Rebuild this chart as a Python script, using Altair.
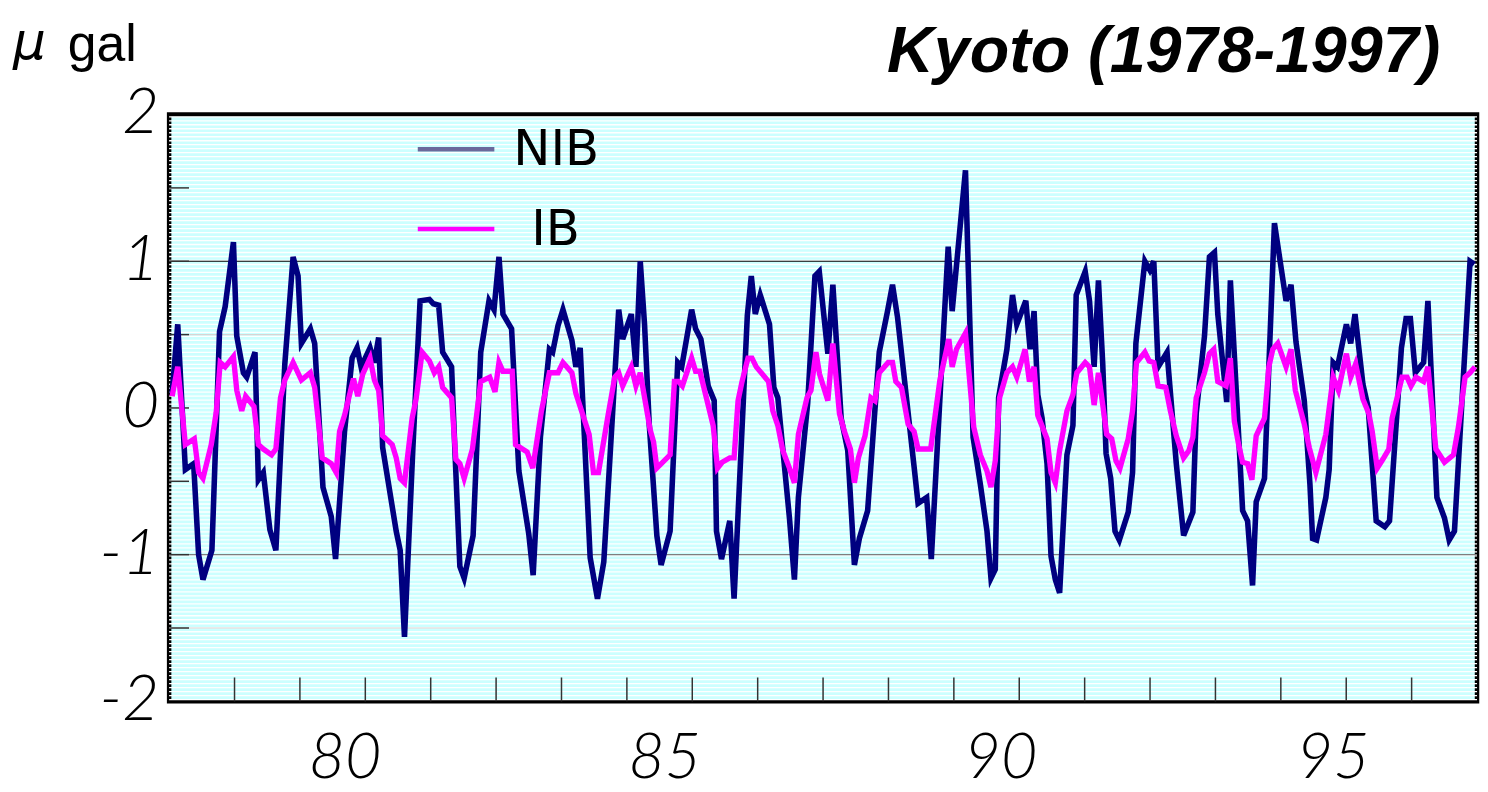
import altair as alt
import pandas as pd
import numpy as np

# ---------------- data ----------------
# month index counted from Jan 1978 (0 = 1978.0), value in micro-gal
nib_month = [0.55, 1.58, 2.98, 4.50, 5.41, 6.21, 7.85, 9.25, 10.28, 11.80, 12.41, 13.63, 14.24, 15.76,
             16.37, 17.28, 18.49, 19.59, 21.23, 22.75, 23.66, 24.27, 25.92, 26.71, 28.23, 29.75, 30.54,
             32.19, 33.58, 34.49, 35.22, 36.87, 37.66, 38.45, 39.18, 41.67, 42.40, 43.19, 44.71, 46.05,
             47.76, 48.49, 49.46, 50.19, 51.83, 52.50, 53.35, 54.14, 55.78, 57.18, 58.70, 59.62, 60.53,
             61.26, 62.84, 64.18, 66.00, 66.80, 68.13, 69.78, 70.38, 71.36, 72.27, 73.91, 74.64, 75.43,
             77.26, 78.60, 79.76, 82.50, 83.23, 84.81, 85.66, 86.45, 87.24, 88.10, 89.50, 90.28, 91.93,
             93.33, 94.06, 95.88, 96.61, 97.58, 98.92, 100.02, 100.44, 101.36, 102.88, 103.67, 106.10,
             106.83, 107.56, 108.47, 110.17, 110.97, 111.70, 113.83, 114.74, 115.47, 117.17, 118.51,
             119.30, 120.88, 121.80, 123.32, 124.53, 125.75, 126.66, 128.18, 129.40, 130.31, 131.83,
             132.74, 133.66, 136.70, 137.43, 139.01, 139.86, 142.17, 142.96, 143.69, 146.13, 147.53,
             148.86, 150.08, 150.81, 151.60, 152.21, 153.73, 154.76, 155.55, 157.20, 157.99, 158.72,
             159.40, 160.19, 161.10, 161.83, 162.62, 163.41, 164.75, 165.85, 166.45, 168.10, 168.89,
             169.74, 170.53, 171.32, 171.93, 172.78, 173.57, 174.36, 176.00, 176.79, 177.40, 179.05,
             179.96, 180.69, 181.48, 183.12, 184.82, 186.16, 187.86, 188.47, 189.99, 190.90, 191.82,
             192.43, 194.07, 194.74, 196.99, 197.90, 198.81, 199.48, 201.00, 202.83, 204.96, 205.87,
             206.78, 208.30, 209.34, 209.83, 210.56, 212.26, 212.87, 213.60, 214.39, 216.03, 216.82,
             217.61, 219.07, 220.04, 221.50, 223.08, 223.94, 226.13, 226.98, 227.77, 228.68, 230.20,
             230.99, 232.64, 234.03, 234.89, 235.86, 238.72, 239.50]
nib_value = [0.10, 0.57, -0.42, -0.38, -1.00, -1.17, -0.97, 0.52, 0.69, 1.13, 0.49, 0.24, 0.21, 0.38,
             -0.49, -0.44, -0.83, -0.97, 0.30, 1.03, 0.90, 0.44, 0.54, 0.44, -0.54, -0.74, -1.03,
             -0.16, 0.34, 0.41, 0.28, 0.41, 0.31, 0.48, -0.27, -0.84, -0.97, -1.56, -0.29, 0.73,
             0.74, 0.71, 0.70, 0.38, 0.28, -0.34, -1.08, -1.16, -0.87, 0.38, 0.73, 0.67, 1.03,
             0.64, 0.54, -0.43, -0.86, -1.14, -0.20, 0.40, 0.38, 0.56, 0.67, 0.46, 0.28, 0.41,
             -1.02, -1.30, -1.05, 0.67, 0.47, 0.64, 0.28, 1.00, 0.57, -0.11, -0.87, -1.07, -0.84,
             0.31, 0.28, 0.67, 0.54, 0.47, 0.15, 0.05, -0.84, -1.03, -0.77, -1.30, 0.63,
             0.90, 0.64, 0.77, 0.57, 0.14, 0.07, -0.75, -1.17, -0.61, 0.03, 0.90,
             0.93, 0.37, 0.84, -0.07, -0.29, -1.07, -0.89, -0.70, -0.07, 0.38, 0.66,
             0.84, 0.62, -0.40, -0.65, -0.61, -1.03, 0.57, 1.10, 0.66, 1.62, -0.20,
             -0.52, -0.84, -1.16, -1.10, 0.07, 0.40, 0.77, 0.57, 0.73, 0.40, 0.66,
             0.09, -0.07, -0.38, -1.01, -1.17, -1.26, -0.32, -0.12, 0.77, 0.93, 0.73,
             0.28, 0.87, 0.30, -0.31, -0.48, -0.84, -0.90, -0.71, -0.44, 0.44, 1.00,
             0.94, 1.00, 0.28, 0.38, -0.38, -0.87, -0.71, -0.04, 0.49, 1.03, 1.06,
             0.64, 0.04, 0.87, -0.70, -0.77, -1.21, -0.64, -0.48, 1.26, 0.73, 0.84,
             0.45, 0.05, -0.52, -0.89, -0.90, -0.61, -0.42, 0.31, 0.28, 0.57, 0.44,
             0.64, 0.16, 0.00, -0.77, -0.81, -0.77, 0.41, 0.61, 0.61, 0.24, 0.31,
             0.73, -0.61, -0.75, -0.90, -0.84, 1.00, 0.98]

ib_month = [0.55, 1.58, 2.98, 4.62, 5.41, 6.21, 7.73, 8.64, 9.37, 10.28, 11.80, 12.41, 13.32, 14.05,
            15.57, 16.37, 17.28, 18.80, 19.59, 20.44, 21.23, 22.75, 24.27, 25.92, 26.71, 28.10, 29.75,
            30.66, 31.27, 32.19, 33.83, 34.62, 35.53, 36.87, 37.66, 38.45, 39.18, 40.94, 41.67, 42.40,
            43.19, 44.59, 45.32, 46.42, 47.76, 48.67, 49.46, 50.19, 51.83, 52.62, 53.35, 54.14, 55.66,
            57.18, 58.83, 59.80, 60.53, 61.26, 62.96, 63.57, 65.70, 66.73, 68.32, 69.78, 71.36, 72.27,
            73.91, 74.64, 77.07, 77.87, 78.78, 80.55, 81.77, 82.50, 83.23, 84.81, 85.66, 86.45, 88.28,
            88.89, 89.50, 91.93, 92.72, 93.45, 94.18, 95.88, 96.61, 97.40, 99.83, 100.63, 101.47,
            102.88, 103.67, 104.40, 105.13, 106.22, 106.95, 107.74, 110.00, 110.78, 111.70, 112.61,
            113.83, 114.74, 115.47, 117.05, 117.78, 118.69, 119.36, 120.88, 121.80, 123.01, 123.92,
            125.02, 125.75, 126.48, 127.70, 128.79, 129.52, 130.31, 131.95, 132.74, 133.35, 134.39,
            135.60, 136.70, 137.43, 139.74, 141.44, 143.08, 143.69, 144.48, 146.13, 147.65, 148.86,
            150.08, 150.81, 151.60, 152.39, 153.73, 154.76, 155.55, 157.07, 157.87, 158.72, 159.40,
            161.10, 161.83, 162.62, 163.41, 164.75, 165.85, 166.57, 168.10, 168.89, 169.74, 170.53,
            172.05, 172.96, 173.75, 174.48, 176.00, 176.79, 177.52, 179.05, 179.84, 180.69, 181.48,
            182.88, 183.73, 184.82, 186.16, 187.13, 187.86, 188.47, 189.99, 190.90, 191.70, 192.43,
            193.95, 194.74, 195.47, 196.26, 196.99, 197.90, 198.69, 199.48, 201.00, 201.80, 202.53,
            203.44, 204.96, 205.87, 206.66, 208.30, 209.22, 210.43, 212.26, 213.60, 214.57, 216.03,
            216.82, 217.73, 219.07, 220.16, 220.77, 221.69, 222.72, 223.82, 224.42, 226.25, 227.16,
            227.89, 228.80, 230.20, 230.99, 232.45, 234.03, 235.68, 236.59, 237.81, 238.72, 239.63]
ib_value = [0.08, 0.28, -0.25, -0.21, -0.44, -0.48, -0.25, -0.03, 0.31, 0.28, 0.35, 0.12, -0.02, 0.08,
            0.01, -0.25, -0.28, -0.32, -0.28, 0.07, 0.19, 0.31, 0.19, 0.24, 0.14, -0.34, -0.38,
            -0.44, -0.16, -0.05, 0.20, 0.08, 0.23, 0.34, 0.19, 0.12, -0.19, -0.25, -0.34, -0.48,
            -0.51, -0.07, 0.06, 0.38, 0.32, 0.24, 0.28, 0.14, 0.07, -0.35, -0.38, -0.48, -0.28,
            0.18, 0.21, 0.11, 0.31, 0.25, 0.25, -0.25, -0.30, -0.41, -0.02, 0.24, 0.24, 0.31,
            0.24, 0.10, -0.18, -0.44, -0.44, -0.05, 0.21, 0.24, 0.15, 0.28, 0.15, 0.24, -0.15,
            -0.23, -0.41, -0.32, 0.18, 0.18, 0.15, 0.34, 0.25, 0.25, -0.12, -0.41, -0.37,
            -0.34, -0.34, 0.05, 0.18, 0.34, 0.34, 0.28, 0.18, -0.02, -0.12, -0.29,
            -0.41, -0.51, -0.18, 0.07, 0.12, 0.38, 0.23, 0.05, 0.44, -0.04, -0.16,
            -0.28, -0.51, -0.34, -0.19, 0.07, 0.05, 0.24, 0.31, 0.31, 0.18, 0.14,
            -0.11, -0.16, -0.28, -0.28, 0.19, 0.47, 0.28, 0.40, 0.51, -0.13, -0.32,
            -0.43, -0.54, -0.36, 0.07, 0.24, 0.28, 0.21, 0.40, 0.18, 0.28, -0.05,
            -0.21, -0.44, -0.51, -0.29, -0.02, 0.09, 0.24, 0.31, 0.28, 0.02, 0.24,
            -0.18, -0.21, -0.36, -0.41, -0.21, -0.02, 0.31, 0.38, 0.32, 0.31, 0.15,
            0.14, -0.02, -0.19, -0.34, -0.29, -0.20, 0.07, 0.24, 0.37, 0.40, 0.18,
            0.15, 0.34, -0.09, -0.25, -0.37, -0.38, -0.49, -0.19, -0.07, 0.28, 0.40,
            0.44, 0.28, 0.40, 0.12, -0.11, -0.27, -0.44, -0.18, 0.21, 0.12, 0.37,
            0.21, 0.30, 0.06, -0.04, -0.16, -0.41, -0.35, -0.28, -0.07, 0.21, 0.21,
            0.15, 0.21, 0.18, 0.28, -0.28, -0.37, -0.32, -0.13, 0.21, 0.24, 0.28]

year_ticks = list(range(1979, 1998))
label_pos = [1980.69, 1985.58, 1990.72, 1995.80]   # where the year labels sit on the time axis
label_text = ["80", "85", "90", "95"]
y_labels = [-2, -1, 0, 1, 2]
y_label_text = ["-2", "-1", "0", "1", "2"]
minor_y = [-1.5, -1, -0.5, 0, 0.5, 1, 1.5]
series_names = ["NIB", "IB"]
title_text = "Kyoto (1978-1997)"
unit_mu = "\u03bc"
unit_gal = "gal"

# ---------------- layout ----------------
W, H = 1315, 590
xs = alt.Scale(domain=[1978, 1998], nice=False, zero=False)
ys = alt.Scale(domain=[-2, 2], nice=False, zero=False)

nib = pd.DataFrame({"t": 1978 + np.array(nib_month) / 12.0, "v": nib_value})
ib = pd.DataFrame({"t": 1978 + np.array(ib_month) / 12.0, "v": ib_value})

# background stripes (decoration)
stripes = pd.DataFrame({"y": np.arange(-2 + 0.012, 2, 4.0 / 147)})
bg = alt.Chart(stripes).mark_rule(color="white", strokeWidth=1.3).encode(
    y=alt.Y("y:Q", scale=ys, axis=None), x=alt.value(0), x2=alt.value(W))

def hline(vals, color, width):
    return alt.Chart(pd.DataFrame({"y": vals})).mark_rule(color=color, strokeWidth=width).encode(
        y=alt.Y("y:Q", scale=ys, axis=None), x=alt.value(0), x2=alt.value(W))

grid_faint = hline([0.5, -1.5], "#d8d4d4", 1.2)
grid_gray = hline([-1], "#7f7f7f", 1.2)
grid_black = hline([1], "#000000", 1.2)

ytick = alt.Chart(pd.DataFrame({"y": minor_y})).mark_rule(color="#333333", strokeWidth=1.5).encode(
    y=alt.Y("y:Q", scale=ys, axis=None), x=alt.value(0), x2=alt.value(20))

xtick = alt.Chart(pd.DataFrame({"t": year_ticks})).mark_rule(color="#333333", strokeWidth=1.5).encode(
    x=alt.X("t:Q", scale=xs, axis=None), y=alt.value(H - 24), y2=alt.value(H))

nib_line = alt.Chart(nib).mark_line(color="#000080", strokeWidth=5.6).encode(
    x=alt.X("t:Q", scale=xs, axis=None), y=alt.Y("v:Q", scale=ys, axis=None))
ib_line = alt.Chart(ib).mark_line(color="#ff00ff", strokeWidth=5.4).encode(
    x=alt.X("t:Q", scale=xs, axis=None), y=alt.Y("v:Q", scale=ys, axis=None))

# tick labels, placed through the scales
ylab = alt.Chart(pd.DataFrame({"v": y_labels, "s": y_label_text})).mark_text(
    align="right", baseline="middle", font="Lato", fontSize=64, fontStyle="italic",
    fontWeight=300, color="black").encode(
    y=alt.Y("v:Q", scale=ys, axis=None), x=alt.value(-10), text="s:N")
xlab = alt.Chart(pd.DataFrame({"t": label_pos, "s": label_text})).mark_text(
    align="center", baseline="alphabetic", font="Lato", fontSize=63, fontStyle="italic",
    fontWeight=300, color="black").encode(
    x=alt.X("t:Q", scale=xs, axis=None), y=alt.value(H + 77), text="s:N")

# legend (drawn inside the plot)
leg_nib = alt.Chart(pd.DataFrame({"a": [0]})).mark_rule(color="#6a6a9c", strokeWidth=4.5).encode(
    x=alt.value(250), x2=alt.value(327), y=alt.value(35))
leg_ib = alt.Chart(pd.DataFrame({"a": [0]})).mark_rule(color="#ff00ff", strokeWidth=4.5).encode(
    x=alt.value(250), x2=alt.value(327), y=alt.value(115))
leg_nib_t = alt.Chart(pd.DataFrame({"s": [series_names[0]]})).mark_text(
    align="left", baseline="alphabetic", font="DejaVu Sans", fontSize=50, color="black").encode(
    x=alt.value(346), y=alt.value(51), text="s:N")
leg_ib_t = alt.Chart(pd.DataFrame({"s": [series_names[1]]})).mark_text(
    align="left", baseline="alphabetic", font="DejaVu Sans", fontSize=50, color="black").encode(
    x=alt.value(364), y=alt.value(131), text="s:N")

title = alt.Chart(pd.DataFrame({"s": [title_text]})).mark_text(
    align="right", baseline="alphabetic", font="Liberation Sans", fontSize=65, fontWeight="bold",
    fontStyle="italic", color="black").encode(x=alt.value(1278), y=alt.value(-43), text="s:N")
mu = alt.Chart(pd.DataFrame({"s": [unit_mu]})).mark_text(
    align="left", baseline="alphabetic", font="DejaVu Sans", fontSize=52, fontStyle="italic",
    color="black").encode(x=alt.value(-157), y=alt.value(-56), text="s:N")
gal = alt.Chart(pd.DataFrame({"s": [unit_gal]})).mark_text(
    align="left", baseline="alphabetic", font="Liberation Sans", fontSize=52, color="black").encode(
    x=alt.value(-102), y=alt.value(-54), text="s:N")

chart = alt.layer(
    bg, grid_faint, grid_gray, grid_black, ytick, xtick, nib_line, ib_line,
    leg_nib, leg_ib, leg_nib_t, leg_ib_t, ylab, xlab, title, mu, gal
).properties(
    width=W, height=H,
    autosize=alt.AutoSizeParams(type="none"),
    padding={"left": 162, "top": 105, "right": 3, "bottom": 88},
    background="white",
).configure_view(fill="#ccffff", stroke="black", strokeWidth=4.5)

chart.save("out.html", embed_options={"renderer": "svg", "actions": False})
